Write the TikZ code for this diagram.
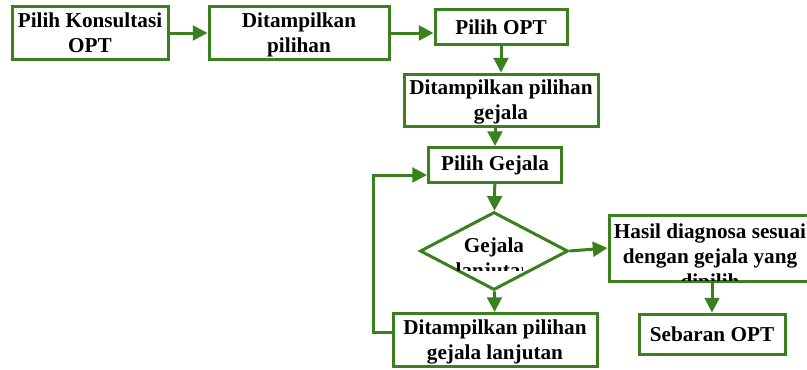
\documentclass[tikz,border=0pt]{standalone}
\usepackage{fontspec}
\setmainfont{Liberation Serif}
\usetikzlibrary{shapes.geometric,arrows.meta}
\definecolor{hijau}{RGB}{58,128,30}

\begin{document}
\begin{tikzpicture}[x=0.75pt, y=-0.75pt, font=\fontsize{15.9}{18.7}\selectfont\bfseries]

% Batas gambar
\clip (0,0) rectangle (807,369);

% Define styles for boxes, diamond and arrows
\tikzstyle{kotak} = [draw=hijau, line width=2.25pt, rectangle, align=center, inner sep=0pt]
\tikzstyle{belah} = [draw=hijau, line width=2.25pt, diamond, inner sep=0pt]
\tikzstyle{teks} = [align=center, inner sep=0pt]
\tikzstyle{panah} = [draw=hijau, line width=2.25pt, -{Triangle[length=11pt, width=11pt]}]

% Baris atas
\node[kotak, minimum width=117pt, minimum height=39.75pt, text depth=-4.5pt] (konsultasi) at (90,33) {Pilih Konsultasi\\OPT};
\node[kotak, minimum width=135pt, minimum height=39.75pt, text depth=-5.5pt] (tampil) at (299,33) {Ditampilkan\\pilihan};
\node[kotak, minimum width=99pt, minimum height=26.25pt] (opt) at (501,27) {Pilih OPT};

% Kolom tengah
\node[kotak, minimum width=145.5pt, minimum height=39pt, text depth=-1pt] (tampilgejala) at (501,100) {Ditampilkan pilihan\\gejala};
\node[kotak, minimum width=99.75pt, minimum height=26.25pt] (gejala) at (495,165) {Pilih Gejala};
\node[belah, minimum width=111pt, minimum height=58.5pt] (cek) at (494,251) {};
\node[kotak, minimum width=153pt, minimum height=39.75pt, text depth=0pt] (lanjutan) at (495,340) {Ditampilkan pilihan\\gejala lanjutan};

% Kolom kanan
\node[kotak, minimum width=151.5pt, minimum height=49.5pt] (hasil) at (710,248) {};
\node[kotak, minimum width=109.5pt, minimum height=30pt] (sebaran) at (712,334) {Sebaran OPT};

% Teks yang terpotong
\begin{scope}
	\clip (440,228) rectangle (522,270);
	\node[teks] (tekscek) at (494,260) {Gejala\\lanjutan};
\end{scope}
\begin{scope}
	\clip (611,217) rectangle (809,280);
	\node[teks] (tekshasil) at (710,258) {Hasil diagnosa sesuai\\dengan gejala yang\\dipilih};
\end{scope}

% Panah
\draw[panah] (konsultasi) -- (tampil);
\draw[panah] (tampil.east) -- (tampil.east -| opt.west);
\draw[panah] (opt) -- (tampilgejala);
\draw[panah] (tampilgejala.south -| gejala) -- (gejala);
\draw[panah] (gejala) -- (cek);
\draw[panah] (cek) -- (lanjutan);
\draw[panah] (cek.east) -- (hasil.west);
\draw[panah] (hasil.south -| sebaran) -- (sebaran);

% Kembali ke pilih gejala
\coordinate (belok) at (373,332);
\draw[panah] (lanjutan.west |- belok) -- (belok) |- ([yshift=-7.5pt]gejala.west);

\end{tikzpicture}
\end{document}
